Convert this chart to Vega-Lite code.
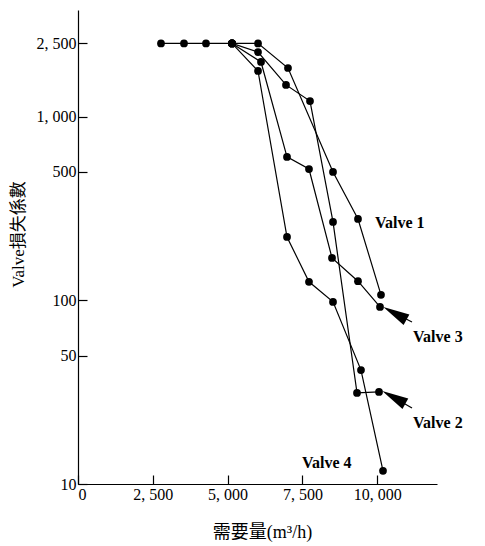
{
  "$schema": "https://vega.github.io/schema/vega-lite/v6.json",
  "width": 359,
  "height": 474,
  "autosize": {"type": "none"},
  "padding": {"left": 78, "top": 10, "right": 48, "bottom": 62},
  "background": "white",
  "config": {
    "view": {"stroke": null},
    "font": "Liberation Serif, Noto Sans CJK TC",
    "axis": {
      "grid": false,
      "domainColor": "black",
      "domainWidth": 1.2,
      "tickColor": "black",
      "tickWidth": 1.2,
      "tickSize": -9,
      "labelPadding": 11,
      "labelColor": "black",
      "labelFontSize": 16,
      "labelFont": "Liberation Serif",
      "titleColor": "black",
      "titleFontWeight": "normal",
      "titleFontSize": 17,
      "titleFont": "Liberation Serif, Noto Sans CJK TC"
    }
  },
  "datasets": {
    "curves": [
      {"valve": "common", "q": 2774, "k": 2500},
      {"valve": "common", "q": 3543, "k": 2500},
      {"valve": "common", "q": 4278, "k": 2500},
      {"valve": "common", "q": 5148, "k": 2500},
      {"valve": "Valve 1", "q": 5148, "k": 2500},
      {"valve": "Valve 1", "q": 6017, "k": 2500},
      {"valve": "Valve 1", "q": 7019, "k": 1837},
      {"valve": "Valve 1", "q": 8524, "k": 499},
      {"valve": "Valve 1", "q": 9359, "k": 277},
      {"valve": "Valve 1", "q": 10128, "k": 107},
      {"valve": "Valve 2", "q": 5148, "k": 2500},
      {"valve": "Valve 2", "q": 6017, "k": 2244},
      {"valve": "Valve 2", "q": 6953, "k": 1486},
      {"valve": "Valve 2", "q": 7755, "k": 1214},
      {"valve": "Valve 2", "q": 8524, "k": 267},
      {"valve": "Valve 2", "q": 9326, "k": 31.3},
      {"valve": "Valve 2", "q": 10061, "k": 31.7},
      {"valve": "Valve 3", "q": 5148, "k": 2500},
      {"valve": "Valve 3", "q": 6117, "k": 1981},
      {"valve": "Valve 3", "q": 6986, "k": 603},
      {"valve": "Valve 3", "q": 7721, "k": 518},
      {"valve": "Valve 3", "q": 8490, "k": 170},
      {"valve": "Valve 3", "q": 9359, "k": 127},
      {"valve": "Valve 3", "q": 10095, "k": 92},
      {"valve": "Valve 4", "q": 5148, "k": 2500},
      {"valve": "Valve 4", "q": 6017, "k": 1770},
      {"valve": "Valve 4", "q": 6986, "k": 221},
      {"valve": "Valve 4", "q": 7721, "k": 126},
      {"valve": "Valve 4", "q": 8524, "k": 98},
      {"valve": "Valve 4", "q": 9459, "k": 41.7},
      {"valve": "Valve 4", "q": 10195, "k": 11.8}
    ],
    "labels": [
      {"q": 9927, "k": 263, "t": "Valve   1"},
      {"q": 11198, "k": 63.1, "t": "Valve   3"},
      {"q": 11198, "k": 21.5, "t": "Valve   2"},
      {"q": 7487, "k": 13.0, "t": "Valve   4"}
    ],
    "arrows": [
      {"q": 11164, "k": 76.2, "q2": 10593, "k2": 84.9},
      {"q": 11164, "k": 25.9, "q2": 10556, "k2": 29.6}
    ]
  },
  "layer": [
    {
      "data": {"name": "curves"},
      "mark": {"type": "line", "color": "black", "strokeWidth": 1.2},
      "encoding": {
        "x": {
          "field": "q",
          "type": "quantitative",
          "scale": {"domain": [0, 12000], "nice": false, "zero": false},
          "axis": {
            "values": [0, 2500, 5000, 7500, 10000],
            "labelExpr": "replace(format(datum.value, ','), ',', ', ')",
            "title": "需要量(m³/h)",
            "titleFontSize": 18,
            "titleX": 184,
            "titleY": 48,
            "titleBaseline": "middle",
            "titleAnchor": "middle"
          }
        },
        "y": {
          "field": "k",
          "type": "quantitative",
          "scale": {"type": "log", "domain": [10, 3800], "nice": false},
          "axis": {
            "values": [10, 50, 100, 500, 1000, 2500],
            "labelExpr": "replace(format(datum.value, ','), ',', ', ')",
            "title": "Valve損失係數",
            "titleX": -60,
            "titleY": 224,
            "titleAngle": -90,
            "titleAlign": "center",
            "titleBaseline": "middle"
          }
        },
        "detail": {"field": "valve"},
        "order": {"field": "q"}
      }
    },
    {
      "data": {"name": "curves"},
      "mark": {"type": "point", "filled": true, "color": "black", "size": 60, "opacity": 1},
      "encoding": {
        "x": {"field": "q", "type": "quantitative"},
        "y": {"field": "k", "type": "quantitative"}
      }
    },
    {
      "data": {"name": "arrows"},
      "mark": {"type": "rule", "color": "black", "strokeWidth": 1.2},
      "encoding": {
        "x": {"field": "q", "type": "quantitative"},
        "y": {"field": "k", "type": "quantitative"},
        "x2": {"field": "q2"},
        "y2": {"field": "k2"}
      }
    },
    {
      "data": {"name": "arrows"},
      "mark": {"type": "point", "filled": true, "color": "black", "opacity": 1, "size": 700, "angle": 299, "shape": "M0,-1L0.45,1L-0.45,1Z"},
      "encoding": {
        "x": {"field": "q2", "type": "quantitative"},
        "y": {"field": "k2", "type": "quantitative"}
      }
    },
    {
      "data": {"name": "labels"},
      "mark": {"type": "text", "align": "left", "baseline": "middle", "fontSize": 16, "fontWeight": "bold", "font": "Liberation Serif", "color": "black"},
      "encoding": {
        "x": {"field": "q", "type": "quantitative"},
        "y": {"field": "k", "type": "quantitative"},
        "text": {"field": "t"}
      }
    }
  ]
}
